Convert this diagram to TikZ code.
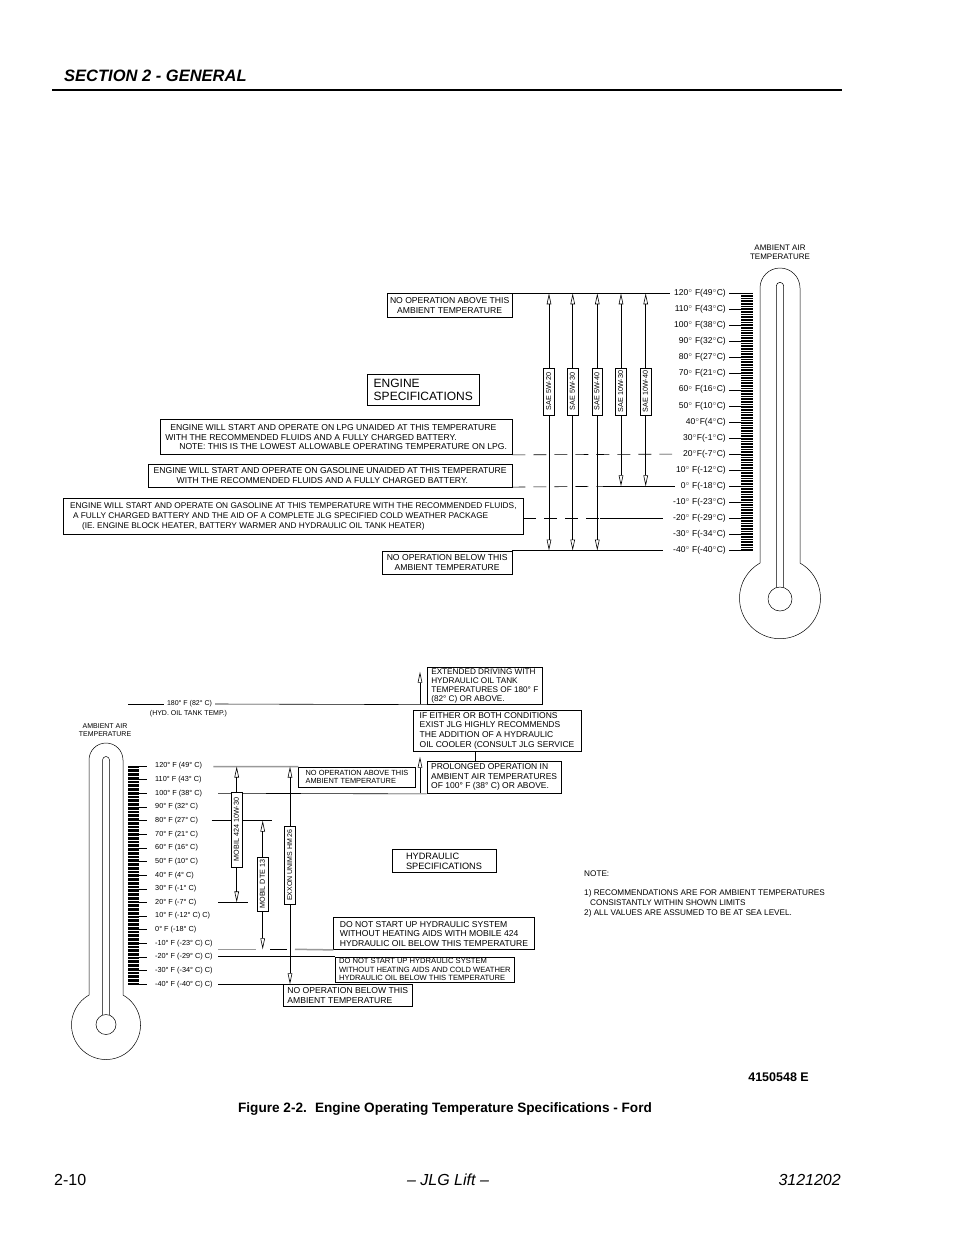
\documentclass[tikz,border=0pt]{standalone}
\usepackage{fontspec}
\setmainfont{Liberation Sans}
\usetikzlibrary{arrows.meta}
\newcommand{\degsup}{$^{\circ}$}
\begin{document}
\begin{tikzpicture}[x=1pt,y=-1pt,
  ln/.style={line width=0.6pt},
  dln/.style={line width=0.6pt, dash pattern=on 13pt off 8pt},
  gln/.style={line width=1.5pt, draw=black!40},
  arr/.style={line width=0.6pt, -{Triangle[open,length=11pt,width=4.5pt]}},
  thermo/.style={line width=0.5pt},
  tickln/.style={line width=0.4pt},
  bx/.style={draw, line width=0.6pt, fill=white, inner xsep=1pt, inner ysep=1pt, align=center, font=\fontsize{8.6}{9.6}\selectfont},
  vbx/.style={draw, line width=0.6pt, fill=white, rotate=90, inner xsep=1pt, inner ysep=2pt, text height=5.4pt, text depth=1.3pt, font=\fontsize{7.2}{8}\selectfont},
  tl/.style={inner sep=0pt, font=\fontsize{8.5}{9}\selectfont},
  bl/.style={inner sep=0pt, font=\fontsize{7.3}{8}\selectfont},
]
\fill[white] (0,0) rectangle (954,1235);
\useasboundingbox (0,0) rectangle (954,1235);

% ---------- header / footer ----------
\node[anchor=base west, inner sep=0pt, font=\fontsize{16.5}{18}\selectfont\bfseries\itshape] (hdr) at (64,81.5) {SECTION 2 - GENERAL};
\coordinate (rl) at (52,90);
\coordinate (rr) at (842,90);
\draw[line width=1.2pt] (rl) -- (rr);
\node[anchor=base east, inner sep=0pt, font=\fontsize{12.5}{14}\selectfont\bfseries] (dwg) at (809,1081) {4150548 E};
\node[anchor=base, inner sep=0pt, font=\bfseries\fontsize{13.6}{15}\selectfont] (cap) at (445,1112) {Figure 2-2.\hspace{0.6em}Engine Operating Temperature Specifications - Ford};
\node[anchor=base west, inner sep=0pt, font=\fontsize{16}{18}\selectfont] (pg) at (54,1185) {2-10};
\node[anchor=base, inner sep=0pt, font=\fontsize{16}{18}\selectfont\itshape] (mid) at (448,1185) {– JLG Lift –};
\node[anchor=base east, inner sep=0pt, font=\fontsize{16}{18}\selectfont\itshape] (doc) at (841,1185) {3121202};

% =============== UPPER DIAGRAM ===============
% thermometer
\draw[thermo] (760,563) -- (760,288) arc (180:360:20) -- (800,563) arc (-60.4:240.4:40.5);
\draw[thermo] (776.3,587.6) -- (776.3,286) arc (180:360:3.7) -- (783.7,587.6);
\draw[thermo] (780,599) circle (12);
\node[inner sep=0pt, align=center, font=\fontsize{8}{9.4}\selectfont] (uamb) at (780,252) {AMBIENT AIR\\TEMPERATURE};
\foreach \t in {-40,...,120} {\draw[tickln] (741,{293.3+(120-\t)*1.6075}) -- (753,{293.3+(120-\t)*1.6075});}
\foreach \t in {-40,-30,...,120} {\draw[tickln] (729,{293.3+(120-\t)*1.6075}) -- (753,{293.3+(120-\t)*1.6075});}
\foreach \t/\s in {120/{120\degsup\ F(49\degsup C)},110/{110\degsup\ F(43\degsup C)},100/{100\degsup\ F(38\degsup C)},90/{90\degsup\ F(32\degsup C)},80/{80\degsup\ F(27\degsup C)},70/{70\degsup\ F(21\degsup C)},60/{60\degsup\ F(16\degsup C)},50/{50\degsup\ F(10\degsup C)},40/{40\degsup F(4\degsup C)},30/{30\degsup F(-1\degsup C)},20/{20\degsup F(-7\degsup C)},10/{10\degsup\ F(-12\degsup C)},0/{0\degsup\ F(-18\degsup C)},-10/{-10\degsup\ F(-23\degsup C)},-20/{-20\degsup\ F(-29\degsup C)},-30/{-30\degsup\ F(-34\degsup C)},-40/{-40\degsup\ F(-40\degsup C)}}
  {\node[tl, anchor=east] (ul\t) at (726,{293.3+(120-\t)*1.6075}) {\s};}

% boxes
\node[bx, anchor=north west, minimum width=124.7pt, minimum height=24pt] (above) at (387,293.3) {NO OPERATION ABOVE THIS\\AMBIENT TEMPERATURE};
\node[bx, anchor=north west, align=left, minimum width=112pt, minimum height=31pt, inner xsep=4pt, font=\fontsize{12}{13.5}\selectfont] (espec) at (367,374) {ENGINE\\SPECIFICATIONS};
\node[bx, anchor=north west, align=left, minimum width=351.7pt, minimum height=35pt] (lpg) at (160,419.3) {\hspace*{5pt}ENGINE WILL START AND OPERATE ON LPG UNAIDED AT THIS TEMPERATURE\\WITH THE RECOMMENDED FLUIDS AND A FULLY CHARGED BATTERY.\\\hspace*{14pt}NOTE: THIS IS THE LOWEST ALLOWABLE OPERATING TEMPERATURE ON LPG.};
\node[bx, anchor=north west, align=left, minimum width=363.7pt, minimum height=22.2pt] (gas) at (148,464.3) {ENGINE WILL START AND OPERATE ON GASOLINE UNAIDED AT THIS TEMPERATURE\\\hspace*{23pt}WITH THE RECOMMENDED FLUIDS AND A FULLY CHARGED BATTERY.};
\node[bx, anchor=north west, align=left, minimum width=459.4pt, minimum height=35.7pt, font=\fontsize{8.3}{9.6}\selectfont] (cold) at (63.3,498.3) {ENGINE WILL START AND OPERATE ON GASOLINE AT THIS TEMPERATURE WITH THE RECOMMENDED FLUIDS,\\\hspace*{3pt}A FULLY CHARGED BATTERY AND THE AID OF A COMPLETE JLG SPECIFIED COLD WEATHER PACKAGE\\\hspace*{12pt}(IE. ENGINE BLOCK HEATER, BATTERY WARMER AND HYDRAULIC OIL TANK HEATER)};
\node[bx, anchor=north west, minimum width=129.7pt, minimum height=23.7pt] (below) at (382,550.6) {NO OPERATION BELOW THIS\\AMBIENT TEMPERATURE};

% horizontal level lines
\coordinate (e120) at (670,293.3);
\coordinate (e20) at (672,454.1);
\coordinate (d0) at (603,486.3);
\coordinate (e0) at (675,486.3);
\coordinate (dm20) at (600,518.4);
\coordinate (em20) at (663,518.4);
\coordinate (em40) at (663,550.6);
\draw[ln] (above.north east) -- (e120);
\draw[dln] (lpg.south east) -- (e20);
\draw[dln] (gas.south east) -- (d0);
\draw[ln] (d0) -- (e0);
\draw[dln] (cold.east |- dm20) -- (dm20);
\draw[ln] (dm20) -- (em20);
\draw[ln] (below.north east) -- (em40);

% oil grade arrows
\node[vbx, minimum width=47pt] (sae1) at (549,391.5) {SAE 5W-20};
\node[vbx, minimum width=47pt] (sae2) at (572.7,391.5) {SAE 5W-30};
\node[vbx, minimum width=47pt] (sae3) at (597.3,391.5) {SAE 5W-40};
\node[vbx, minimum width=47pt] (sae4) at (621,391.5) {SAE 10W-30};
\node[vbx, minimum width=47pt] (sae5) at (645.7,391.5) {SAE 10W-40};
\foreach \n in {sae1,sae2,sae3,sae4,sae5} {\draw[arr] (\n.east) -- (\n.east |- e120);}
\foreach \n in {sae1,sae2,sae3} {\draw[arr] (\n.west) -- (\n.west |- em40);}
\foreach \n in {sae4,sae5} {\draw[arr] (\n.west) -- (\n.west |- e0);}

% =============== LOWER DIAGRAM ===============
\draw[thermo] (89,995) -- (89,760) arc (180:360:17) -- (123,995) arc (-60.5:240.5:34.5);
\draw[thermo] (102.5,1015) -- (102.5,760) arc (180:360:3.5) -- (109.5,1015);
\draw[thermo] (106,1024.5) circle (10);
\node[inner sep=0pt, align=center, font=\fontsize{7}{8}\selectfont] (lamb) at (105,730.5) {AMBIENT AIR\\TEMPERATURE};
\foreach \t in {-40,...,120} {\draw[tickln] (128.3,{766+(120-\t)*1.364}) -- (139,{766+(120-\t)*1.364});}
\foreach \t in {-40,-30,...,120} {\draw[tickln] (128.3,{766+(120-\t)*1.364}) -- (147,{766+(120-\t)*1.364});}
\foreach \t/\s in {120/{120° F (49° C)},110/{110° F (43° C)},100/{100° F (38° C)},90/{90° F (32° C)},80/{80° F (27° C)},70/{70° F (21° C)},60/{60° F (16° C)},50/{50° F (10° C)},40/{40° F (4° C)},30/{30° F (-1° C)},20/{20° F (-7° C)},10/{10° F (-12° C) C)},0/{0° F (-18° C)},-10/{-10° F (-23° C) C)},-20/{-20° F (-29° C) C)},-30/{-30° F (-34° C) C)},-40/{-40° F (-40° C) C)}}
  {\node[bl, anchor=west] (ll\t) at (155,{766+(120-\t)*1.364}) {\s};}

% boxes
\node[bx, anchor=north west, align=left, minimum width=115pt, minimum height=37pt, font=\fontsize{8.2}{9.2}\selectfont] (ext) at (427,667) {EXTENDED DRIVING WITH\\HYDRAULIC OIL TANK\\TEMPERATURES OF 180° F\\(82° C) OR ABOVE.};
\node[bx, anchor=north west, align=left, minimum width=168pt, minimum height=40.7pt, font=\fontsize{8.5}{9.6}\selectfont] (either) at (412.7,710) {IF EITHER OR BOTH CONDITIONS\\EXIST JLG HIGHLY RECOMMENDS\\THE ADDITION OF A HYDRAULIC\\OIL COOLER (CONSULT JLG SERVICE};
\node[bx, anchor=north west, align=left, minimum width=134.3pt, minimum height=32.6pt, font=\fontsize{8.5}{9.5}\selectfont] (prol) at (426.7,760.7) {PROLONGED OPERATION IN\\AMBIENT AIR TEMPERATURES\\OF 100° F (38° C) OR ABOVE.};
\node[bx, anchor=north west, align=left, minimum width=116.7pt, minimum height=20pt, font=\fontsize{7.4}{8.4}\selectfont] (above2) at (298.3,766.7) {NO OPERATION ABOVE THIS\\AMBIENT TEMPERATURE};
\node[bx, anchor=north west, align=left, minimum width=104pt, minimum height=23pt, font=\fontsize{9.2}{10}\selectfont] (hspec) at (391.7,849.3) {HYDRAULIC\\SPECIFICATIONS};
\node[bx, anchor=north west, align=left, minimum width=200.7pt, minimum height=32pt, font=\fontsize{8.6}{9.5}\selectfont] (dns1) at (333.3,917.3) {DO NOT START UP HYDRAULIC SYSTEM\\WITHOUT HEATING AIDS WITH MOBILE 424\\HYDRAULIC OIL BELOW THIS TEMPERATURE};
\node[bx, anchor=north west, align=left, minimum width=179pt, minimum height=25pt, font=\fontsize{7.6}{8.3}\selectfont] (dns2) at (335,956.7) {DO NOT START UP HYDRAULIC SYSTEM\\WITHOUT HEATING AIDS AND COLD WEATHER\\HYDRAULIC OIL BELOW THIS TEMPERATURE};
\node[bx, anchor=north west, align=left, minimum width=128.4pt, minimum height=22pt] (below2) at (283.3,984.3) {NO OPERATION BELOW THIS\\AMBIENT TEMPERATURE};

% note
\node[anchor=north west, inner sep=0pt, align=left, font=\fontsize{8.2}{9.6}\selectfont] (note) at (584,871) {NOTE:\\[9.4pt]1) RECOMMENDATIONS ARE FOR AMBIENT TEMPERATURES\\\hspace*{6pt}CONSISTANTLY WITHIN SHOWN LIMITS\\2) ALL VALUES ARE ASSUMED TO BE AT SEA LEVEL.};

% 180 F line
\node[bl, inner xsep=3pt, font=\fontsize{7}{8}\selectfont] (t180) at (189.5,704) {180° F (82° C)};
\node[bl, font=\fontsize{7}{8}\selectfont] (hyd) at (188.5,714) {(HYD. OIL TANK TEMP.)};
\coordinate (s180) at (128,704);
\draw[ln] (s180) -- (t180.west);
\draw[ln] (t180.east) -- (ext.south west);
\coordinate (a180) at (420,704);
\coordinate (a180t) at (420,671.7);
\draw[arr] (a180) -- (a180t);
\coordinate (cj) at (475,0);
\draw[ln] (cj |- either.south) -- (cj |- prol.north);

% level lines
\coordinate (g120) at (213.3,766.5);
\draw[gln] (g120) -- (above2.north west);
\coordinate (s100) at (218,793.3);
\draw[ln] (s100) -- (prol.south west);
\coordinate (a100) at (420,793.3);
\coordinate (a100t) at (420,756.7);
\draw[arr] (a100) -- (a100t);
\coordinate (s80) at (211.7,820.6);
\coordinate (e80) at (271.7,820.6);
\draw[ln] (s80) -- (e80);
\coordinate (s20) at (218,902.4);
\coordinate (e20b) at (248.3,902.4);
\draw[ln] (s20) -- (e20b);
\coordinate (gA) at (218,949.3);
\coordinate (gB) at (256,949.3);
\coordinate (gC) at (270,949.3);
\coordinate (gD) at (287,949.3);
\coordinate (gE) at (295,949.3);
\draw[gln] (gA) -- (gB);
\draw[ln] (gC) -- (gD);
\draw[gln] (gE) -- (dns1.south west);
\coordinate (sm20) at (218,956.7);
\draw[ln] (sm20) -- (dns2.north west);
\coordinate (sm40) at (218,984.3);
\draw[ln] (sm40) -- (below2.north west);

% oil grade arrows (lower)
\node[vbx, minimum width=75pt] (m424) at (236.7,829.5) {MOBIL 424 10W-30};
\node[vbx, minimum width=54pt] (dte) at (262.7,884) {MOBIL DTE 13};
\node[vbx, minimum width=78pt, font=\fontsize{7}{8}\selectfont] (exx) at (290,865) {EXXON UNIMS HM 26};
\draw[arr] (m424.east) -- (m424.east |- g120);
\draw[arr] (m424.west) -- (m424.west |- s20);
\draw[arr] (dte.east) -- (dte.east |- s80);
\draw[arr] (dte.west) -- (dte.west |- gA);
\draw[arr] (exx.east) -- (exx.east |- g120);
\draw[arr] (exx.west) -- (exx.west |- sm40);
\end{tikzpicture}
\end{document}
